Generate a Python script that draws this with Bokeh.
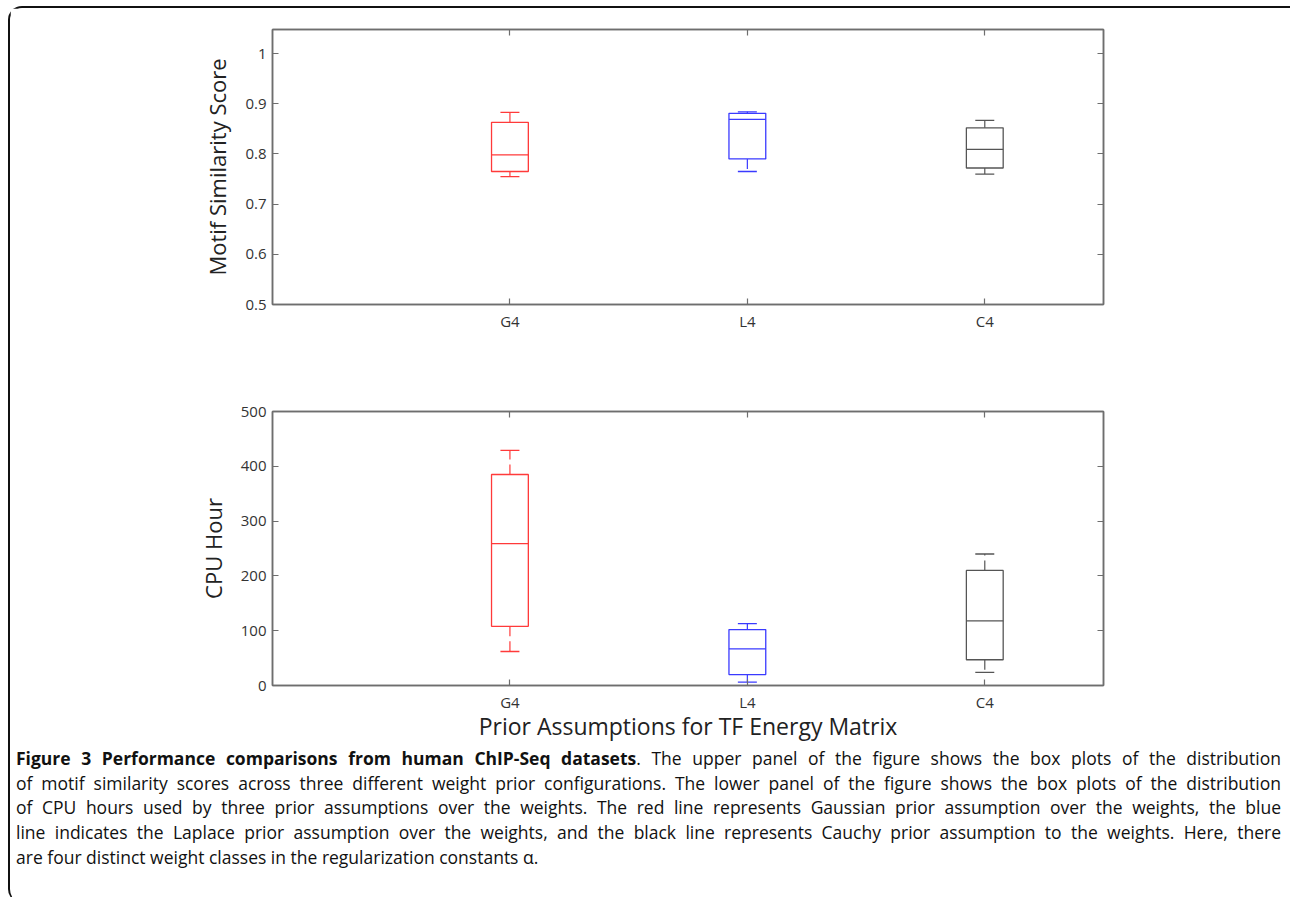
from bokeh.plotting import figure
from bokeh.models import Range1d, LinearAxis, FixedTicker, ColumnDataSource, Div
from bokeh.layouts import column
from bokeh.embed import file_html
from bokeh.resources import INLINE

# ---------------- data ----------------
categories = ["G4", "L4", "C4"]
box_colors = ["#ff3a3a", "#3a3aff", "#555555"]

score_low = [0.755, 0.765, 0.760]
score_q1 = [0.765, 0.790, 0.772]
score_median = [0.798, 0.869, 0.809]
score_q3 = [0.863, 0.881, 0.852]
score_high = [0.883, 0.884, 0.867]
score_ticks = [0.5, 0.6, 0.7, 0.8, 0.9, 1.0]
score_tick_labels = ["0.5", "0.6", "0.7", "0.8", "0.9", "1"]

cpu_low = [62, 6, 24]
cpu_q1 = [108, 20, 47]
cpu_median = [259, 67, 118]
cpu_q3 = [385, 102, 210]
cpu_high = [429, 113, 240]
cpu_ticks = [0, 100, 200, 300, 400, 500]
cpu_tick_labels = ["0", "100", "200", "300", "400", "500"]

caption_bold = "Figure 3 Performance comparisons from human ChIP-Seq datasets"
caption_lines = [
    ". The upper panel of the figure shows the box plots of the distribution",
    "of motif similarity scores across three different weight prior configurations. The lower panel of the figure shows the box plots of the distribution",
    "of CPU hours used by three prior assumptions over the weights. The red line represents Gaussian prior assumption over the weights, the blue",
    "line indicates the Laplace prior assumption over the weights, and the black line represents Cauchy prior assumption to the weights. Here, there",
    "are four distinct weight classes in the regularization constants \u03b1.",
]

FONT = "Open Sans"
W = 1278
BOX_W = 0.155
CAP_W = 0.08
FRAME = "#6e6e6e"


def style_axis(ax):
    ax.axis_line_color = FRAME
    ax.axis_line_width = 1.5
    ax.major_tick_in = 6
    ax.major_tick_out = 0
    ax.minor_tick_line_color = None
    ax.major_tick_line_color = FRAME
    ax.major_tick_line_width = 1.2


def style_axes(p, ticks, labels, ylabel):
    pos = [1, 2, 3]
    xax = p.below[0]
    yax = p.left[0]
    xax.ticker = FixedTicker(ticks=pos)
    xax.major_label_overrides = {i + 1: c for i, c in enumerate(categories)}
    yax.ticker = FixedTicker(ticks=ticks)
    yax.major_label_overrides = {t: l for t, l in zip(ticks, labels)}
    yax.axis_label = ylabel
    for ax in (xax, yax):
        style_axis(ax)
        ax.major_label_text_font = FONT
        ax.major_label_text_font_size = "15px"
        ax.major_label_text_color = "#333333"
        ax.axis_label_text_font = FONT
        ax.axis_label_text_font_style = "normal"
        ax.axis_label_text_color = "#222222"
    yax.axis_label_text_font_size = "22px"
    yax.major_label_standoff = 6
    yax.axis_label_standoff = 10
    xax.major_label_standoff = 6
    # mirrored (unlabelled) ticks on right and top
    right = LinearAxis(ticker=FixedTicker(ticks=ticks))
    top = LinearAxis(ticker=FixedTicker(ticks=pos))
    for ax in (right, top):
        style_axis(ax)
        ax.major_label_text_color = None
        ax.major_label_text_font_size = "1px"
        ax.major_label_standoff = 0
    p.add_layout(right, "right")
    p.add_layout(top, "above")
    p.grid.grid_line_color = None
    p.outline_line_color = FRAME
    p.outline_line_width = 1.5
    return xax


def draw_boxes(p, low, q1, med, q3, high):
    x = [1, 2, 3]
    src = ColumnDataSource(dict(
        x=x, low=low, q1=q1, med=med, q3=q3, high=high, color=box_colors,
        bl=[v - BOX_W / 2 for v in x], br=[v + BOX_W / 2 for v in x],
        cl=[v - CAP_W / 2 for v in x], cr=[v + CAP_W / 2 for v in x],
    ))
    p.segment(x0="x", x1="x", y0="q3", y1="high", line_color="color", line_width=1.2,
              line_dash="10 5", source=src)
    p.segment(x0="x", x1="x", y0="q1", y1="low", line_color="color", line_width=1.2,
              line_dash="10 5", source=src)
    p.segment(x0="cl", x1="cr", y0="high", y1="high", line_color="color", line_width=1.3, source=src)
    p.segment(x0="cl", x1="cr", y0="low", y1="low", line_color="color", line_width=1.3, source=src)
    p.quad(left="bl", right="br", bottom="q1", top="q3", fill_color=None,
           line_color="color", line_width=1.3, source=src)
    p.segment(x0="bl", x1="br", y0="med", y1="med", line_color="color", line_width=1.3, source=src)


# ---------------- upper panel ----------------
pa = figure(width=W, height=362, output_backend="svg", toolbar_location=None,
            x_range=Range1d(0, 3.5), y_range=Range1d(0.5, 1.048),
            min_border_left=262, min_border_right=185, min_border_top=21, min_border_bottom=66,
            background_fill_color="white", border_fill_color="white")
style_axes(pa, score_ticks, score_tick_labels, "Motif Similarity Score")
draw_boxes(pa, score_low, score_q1, score_median, score_q3, score_high)

# ---------------- lower panel ----------------
pb = figure(width=W, height=374, output_backend="svg", toolbar_location=None,
            x_range=Range1d(0, 3.5), y_range=Range1d(0, 500),
            min_border_left=262, min_border_right=185, min_border_top=41, min_border_bottom=58,
            background_fill_color="white", border_fill_color="white")
xb = style_axes(pb, cpu_ticks, cpu_tick_labels, "CPU Hour")
xb.axis_label = "Prior Assumptions for TF Energy Matrix"
xb.axis_label_text_font_size = "23px"
xb.axis_label_standoff = -5
draw_boxes(pb, cpu_low, cpu_q1, cpu_median, cpu_q3, cpu_high)

# ---------------- caption ----------------
line_html = []
for i, ln in enumerate(caption_lines):
    last = i == len(caption_lines) - 1
    align = "left" if last else "justify"
    body = ln
    if i == 0:
        body = "<b>" + caption_bold + "</b>" + ln
    line_html.append(
        '<div style="width:1265px;text-align:%s;text-align-last:%s;height:24.7px;'
        'white-space:normal;">%s</div>' % (align, align, body)
    )
caption_html = (
    '<div style="margin:-3px 0 0 1px;width:1265px;font-family:\'Open Sans\';font-size:17.5px;'
    'line-height:24.7px;color:#111111;">' + "".join(line_html) + "</div>"
)
pc = Div(text=caption_html, width=W, height=149)

layout = column(pa, pb, pc, styles={
    "margin-top": "6px",
    "margin-left": "8px",
    "border-top": "2px solid #111",
    "border-left": "2px solid #111",
    "border-top-left-radius": "14px",
    "border-bottom-left-radius": "14px",
    "border-top-right-radius": "8px",
})

open("out.html", "w").write(file_html(layout, INLINE))
